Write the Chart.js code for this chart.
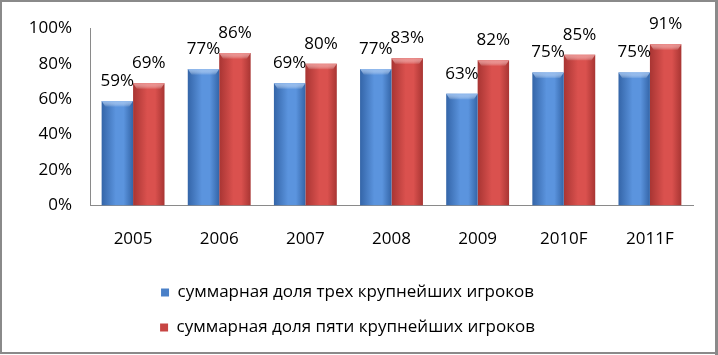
<!DOCTYPE html>
<html>
<head>
<meta charset="utf-8">
<script src="https://cdn.jsdelivr.net/npm/chart.js@4/dist/chart.umd.min.js"></script>
<style>
html,body{margin:0;padding:0;background:#fff;}
#wrap{width:718px;height:355px;position:relative;}
</style>
</head>
<body>
<div id="wrap"><canvas id="c" width="718" height="355"></canvas></div>
<script>
const categories = ['2005','2006','2007','2008','2009','2010F','2011F'];
const seriesNames = ['суммарная доля трех крупнейших игроков','суммарная доля пяти крупнейших игроков'];
const topThree = [59,77,69,77,63,75,75];
const topFive = [69,86,80,83,82,85,91];
const yTicks = [0,20,40,60,80,100];

const FONT = '"Open Sans", Lato, sans-serif';
const palettes = [
  {edge:'#3465a8', mid:'#5b94de', top:'#8cb6ec', flat:'#4a80c8'},
  {edge:'#a83533', mid:'#da514e', top:'#ea8a88', flat:'#c74543'}
];

const gradientPlugin = {
  id:'gradBars',
  beforeDatasetsDraw(chart){
    const ctx = chart.ctx;
    chart.data.datasets.forEach((ds,di)=>{
      const meta = chart.getDatasetMeta(di);
      const p = palettes[di];
      meta.data.forEach(el=>{
        const l = el.x - el.width/2, r = el.x + el.width/2;
        const g = ctx.createLinearGradient(l,0,r,0);
        g.addColorStop(0,p.edge);
        g.addColorStop(0.45,p.mid);
        g.addColorStop(0.7,p.mid);
        g.addColorStop(1,p.edge);
        el.options.backgroundColor = g;
      });
    });
  },
  afterDatasetsDraw(chart){
    const ctx = chart.ctx;
    ctx.save();
    chart.data.datasets.forEach((ds,di)=>{
      const meta = chart.getDatasetMeta(di);
      const p = palettes[di];
      meta.data.forEach(el=>{
        const l = el.x - el.width/2, w = el.width, t = el.y;
        const g = ctx.createLinearGradient(0,t,0,t+6);
        g.addColorStop(0,p.top);
        g.addColorStop(1,'rgba(255,255,255,0)');
        ctx.fillStyle = g;
        ctx.beginPath();
        ctx.moveTo(l,t); ctx.lineTo(l+w,t); ctx.lineTo(l+w-4,t+6); ctx.lineTo(l+4,t+6); ctx.closePath();
        ctx.fill();
      });
    });
    ctx.font = '17px ' + FONT;
    ctx.fillStyle = '#000';
    ctx.textAlign = 'center';
    ctx.textBaseline = 'middle';
    chart.data.datasets.forEach((ds,di)=>{
      const meta = chart.getDatasetMeta(di);
      meta.data.forEach((el,i)=>{
        ctx.fillText(ds.data[i] + '%', el.x, el.y - 20);
      });
    });
    ctx.restore();
  },
  afterDraw(chart){
    const ctx = chart.ctx;
    ctx.save();
    ctx.strokeStyle = '#8a8a8a';
    ctx.lineWidth = 2;
    ctx.strokeRect(1,1,716,352);
    ctx.fillStyle = '#8a8a8a';
    ctx.fillRect(715,1,3,354);
    ctx.restore();
  }
};

new Chart(document.getElementById('c'),{
  type:'bar',
  data:{
    labels:categories,
    datasets:[
      {label:seriesNames[0], data:topThree, backgroundColor:()=>palettes[0].flat, borderWidth:0},
      {label:seriesNames[1], data:topFive, backgroundColor:()=>palettes[1].flat, borderWidth:0}
    ]
  },
  options:{
    responsive:false,
    animation:false,
    events:[],
    layout:{padding:{left:2,right:25,top:24,bottom:9}},
    datasets:{bar:{categoryPercentage:0.73,barPercentage:1}},
    scales:{
      x:{
        grid:{display:false, drawTicks:false},
        border:{display:true,color:'#8a8a8a',width:1},
        afterFit(scale){ scale.height = scale.height - 6; },
        ticks:{font:{family:FONT,size:17},color:'#000',padding:23}
      },
      y:{
        min:0,max:100,
        afterBuildTicks(scale){ scale.ticks = yTicks.map(v=>({value:v})); },
        afterFit(scale){ scale.width = 88; },
        grid:{display:false, drawTicks:false},
        border:{display:true,color:'#8a8a8a',width:1},
        ticks:{font:{family:FONT,size:17},color:'#000',padding:18,callback:v=>v+'%'}
      }
    },
    plugins:{
      legend:{
        position:'bottom',
        labels:{
          font:{family:FONT,size:17},color:'#000',
          boxWidth:8,boxHeight:8,padding:18,
          generateLabels(chart){
            return chart.data.datasets.map((d,i)=>({text:d.label,fillStyle:palettes[i].flat,strokeStyle:palettes[i].flat,lineWidth:0,datasetIndex:i}));
          }
        }
      },
      tooltip:{enabled:false}
    }
  },
  plugins:[gradientPlugin]
});
</script>
</body>
</html>
